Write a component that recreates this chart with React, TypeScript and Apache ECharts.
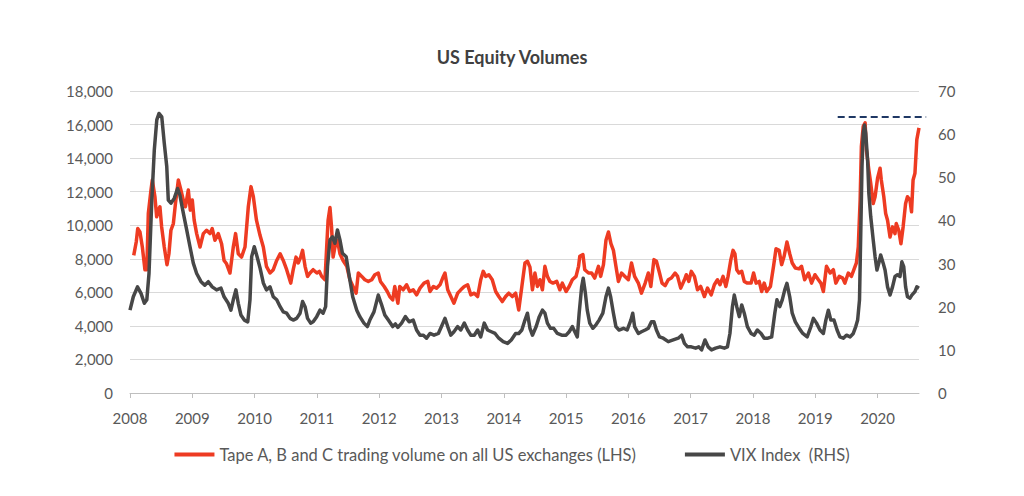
import React, { useEffect, useRef } from "react";
import * as echarts from "echarts";

const chartTitle = "US Equity Volumes";
const volumeName = "Tape A, B and C trading volume on all US exchanges (LHS)";
const vixName = "VIX Index  (RHS)";

// [decimal year, trading volume (LHS)]
const volumePoints: [number, number][] = [
  [2008.06, 8200], [2008.1, 9000], [2008.124, 9800], [2008.16, 9600], [2008.198, 8700],
  [2008.24, 7350], [2008.27, 7350], [2008.294, 10700], [2008.337, 12100], [2008.358, 12700],
  [2008.4, 11700], [2008.428, 10500], [2008.455, 10900], [2008.48, 11100], [2008.508, 9900],
  [2008.55, 8700], [2008.594, 7650], [2008.625, 8300], [2008.657, 9700], [2008.696, 10100],
  [2008.73, 11300], [2008.776, 12700], [2008.817, 12100], [2008.856, 11500], [2008.89, 11100],
  [2008.936, 12100], [2008.968, 10900], [2009.0, 11500], [2009.03, 10300], [2009.07, 9500],
  [2009.124, 8700], [2009.177, 9500], [2009.23, 9700], [2009.284, 9500], [2009.32, 9800],
  [2009.364, 9100], [2009.417, 9500], [2009.47, 8900], [2009.51, 7900], [2009.55, 7700],
  [2009.605, 7150], [2009.658, 8700], [2009.695, 9500], [2009.738, 8300], [2009.79, 8100],
  [2009.846, 8700], [2009.899, 11100], [2009.942, 12300], [2009.98, 11700], [2010.03, 10300],
  [2010.087, 9400], [2010.14, 8700], [2010.19, 7550], [2010.247, 7150], [2010.3, 7350],
  [2010.355, 7900], [2010.41, 8300], [2010.46, 7900], [2010.515, 7350], [2010.58, 6550],
  [2010.62, 7350], [2010.665, 8100], [2010.7, 7750], [2010.74, 8100], [2010.77, 8500],
  [2010.81, 7550], [2010.85, 6950], [2010.89, 7150], [2010.94, 7350], [2011.0, 7150],
  [2011.04, 7250], [2011.077, 6950], [2011.13, 6750], [2011.157, 8700], [2011.18, 10300],
  [2011.21, 11050], [2011.235, 9900], [2011.26, 8100], [2011.29, 8700], [2011.33, 9100],
  [2011.37, 8300], [2011.42, 7900], [2011.48, 7550], [2011.53, 6750], [2011.58, 6350],
  [2011.63, 5950], [2011.665, 7150], [2011.72, 6950], [2011.77, 6750], [2011.825, 6650],
  [2011.88, 6750], [2011.93, 7050], [2011.985, 7150], [2012.02, 6650], [2012.08, 6350],
  [2012.13, 6050], [2012.17, 5750], [2012.217, 5550], [2012.25, 6350], [2012.3, 5350],
  [2012.33, 6350], [2012.385, 6150], [2012.44, 6450], [2012.49, 6050], [2012.546, 6150],
  [2012.6, 5850], [2012.655, 6250], [2012.72, 6550], [2012.78, 6650], [2012.815, 6050],
  [2012.87, 6350], [2012.92, 6250], [2012.976, 6450], [2013.03, 6950], [2013.056, 7150],
  [2013.1, 6150], [2013.15, 5750], [2013.2, 5350], [2013.26, 5950], [2013.31, 6150],
  [2013.366, 6350], [2013.42, 6450], [2013.47, 5850], [2013.526, 5950], [2013.58, 5750],
  [2013.63, 6750], [2013.67, 7250], [2013.71, 6950], [2013.76, 7050], [2013.815, 6750],
  [2013.87, 6050], [2013.92, 5750], [2013.976, 5450], [2014.03, 5750], [2014.08, 5950],
  [2014.137, 5750], [2014.19, 5950], [2014.24, 4950], [2014.29, 6350], [2014.34, 7750],
  [2014.38, 7850], [2014.42, 7500], [2014.46, 6150], [2014.5, 7150], [2014.54, 6350],
  [2014.58, 6750], [2014.62, 6150], [2014.66, 7550], [2014.7, 6950], [2014.74, 6650],
  [2014.79, 6550], [2014.85, 6650], [2014.9, 6150], [2014.94, 6550], [2015.0, 6050],
  [2015.05, 6350], [2015.1, 6750], [2015.16, 6950], [2015.2, 7550], [2015.22, 8150],
  [2015.27, 8250], [2015.3, 7350], [2015.36, 7150], [2015.41, 7150], [2015.46, 6850],
  [2015.52, 7550], [2015.555, 6950], [2015.6, 7650], [2015.64, 9100], [2015.68, 9600],
  [2015.72, 8900], [2015.76, 8500], [2015.8, 7550], [2015.84, 6650], [2015.89, 7150],
  [2015.945, 6950], [2016.0, 6750], [2016.05, 7750], [2016.1, 6950], [2016.16, 6550],
  [2016.21, 5950], [2016.27, 6550], [2016.32, 7150], [2016.36, 6350], [2016.41, 7950],
  [2016.45, 7850], [2016.5, 7150], [2016.54, 6550], [2016.59, 6400], [2016.64, 6750],
  [2016.69, 6850], [2016.75, 7150], [2016.79, 6950], [2016.84, 6250], [2016.9, 6750],
  [2016.93, 7050], [2016.97, 6650], [2017.01, 7250], [2017.06, 6950], [2017.11, 6150],
  [2017.16, 6350], [2017.22, 5750], [2017.27, 6250], [2017.33, 5850], [2017.38, 6450],
  [2017.43, 6750], [2017.47, 6450], [2017.52, 6950], [2017.565, 6350], [2017.6, 6950],
  [2017.645, 7950], [2017.68, 8500], [2017.71, 8300], [2017.74, 7350], [2017.775, 7150],
  [2017.82, 7250], [2017.86, 6650], [2017.91, 6550], [2017.97, 6550], [2018.01, 7150],
  [2018.05, 6550], [2018.1, 6650], [2018.14, 6050], [2018.18, 6550], [2018.22, 6050],
  [2018.28, 6350], [2018.33, 7550], [2018.37, 8600], [2018.42, 8500], [2018.46, 7650],
  [2018.5, 8150], [2018.545, 9000], [2018.59, 8300], [2018.63, 7750], [2018.68, 7450],
  [2018.74, 7400], [2018.78, 7550], [2018.83, 6750], [2018.89, 7150], [2018.94, 6550],
  [2018.995, 7050], [2019.05, 6750], [2019.09, 6550], [2019.13, 6050], [2019.18, 7550],
  [2019.24, 7150], [2019.29, 7350], [2019.33, 6550], [2019.385, 6950], [2019.44, 6850],
  [2019.475, 6550], [2019.53, 7150], [2019.58, 6950], [2019.62, 7350], [2019.66, 7750],
  [2019.69, 8700], [2019.72, 11500], [2019.74, 14700], [2019.77, 15900], [2019.8, 16100],
  [2019.82, 14500], [2019.86, 13300], [2019.89, 12500], [2019.93, 11300], [2019.96, 11700],
  [2020.0, 12800], [2020.04, 13400], [2020.06, 12700], [2020.1, 11700], [2020.13, 10700],
  [2020.16, 10300], [2020.2, 9300], [2020.24, 9900], [2020.28, 9500], [2020.3, 10100],
  [2020.34, 9700], [2020.375, 8900], [2020.41, 9900], [2020.45, 11300], [2020.48, 11700],
  [2020.52, 11500], [2020.545, 10800], [2020.57, 12700], [2020.6, 13100], [2020.63, 15100],
  [2020.665, 15800],
];

// [decimal year, VIX index (RHS)]
const vixPoints: [number, number][] = [
  [2008.0, 19.2], [2008.053, 22.3], [2008.12, 24.6], [2008.177, 23.1], [2008.23, 20.8],
  [2008.27, 21.6], [2008.305, 27.7], [2008.35, 44.7], [2008.39, 56.3], [2008.43, 63.3],
  [2008.465, 64.8], [2008.51, 64.0], [2008.55, 57.9], [2008.59, 52.5], [2008.615, 44.7],
  [2008.657, 44.0], [2008.71, 45.1], [2008.764, 47.4], [2008.8, 45.9], [2008.856, 41.7],
  [2008.91, 37.8], [2008.963, 33.9], [2009.016, 30.1], [2009.07, 27.7], [2009.14, 25.8],
  [2009.2, 25.0], [2009.257, 25.8], [2009.32, 24.6], [2009.39, 23.9], [2009.46, 24.3],
  [2009.51, 22.3], [2009.577, 20.8], [2009.62, 19.2], [2009.658, 21.6], [2009.7, 23.9],
  [2009.738, 20.8], [2009.78, 18.1], [2009.835, 16.9], [2009.89, 16.5], [2009.926, 21.6],
  [2009.953, 31.6], [2009.995, 33.9], [2010.04, 31.6], [2010.087, 29.0], [2010.14, 25.5],
  [2010.19, 23.9], [2010.247, 24.6], [2010.3, 22.3], [2010.355, 21.6], [2010.41, 20.0],
  [2010.46, 18.8], [2010.515, 18.5], [2010.57, 17.3], [2010.62, 16.9], [2010.675, 17.3],
  [2010.73, 18.5], [2010.77, 21.2], [2010.81, 20.0], [2010.85, 17.3], [2010.9, 16.2],
  [2010.94, 16.5], [2010.997, 17.7], [2011.05, 19.2], [2011.1, 18.5], [2011.14, 20.0],
  [2011.17, 29.3], [2011.21, 35.5], [2011.25, 36.2], [2011.29, 34.7], [2011.33, 37.8],
  [2011.37, 35.5], [2011.41, 32.4], [2011.47, 31.6], [2011.52, 27.0], [2011.575, 22.3],
  [2011.64, 19.2], [2011.69, 17.7], [2011.755, 16.2], [2011.81, 15.4], [2011.85, 16.9],
  [2011.916, 18.8], [2011.985, 22.7], [2012.04, 20.4], [2012.09, 18.1], [2012.147, 16.9],
  [2012.217, 15.4], [2012.26, 16.0], [2012.3, 15.2], [2012.36, 16.2], [2012.42, 17.7],
  [2012.48, 16.5], [2012.546, 16.9], [2012.6, 14.6], [2012.655, 13.4], [2012.71, 13.4],
  [2012.76, 12.7], [2012.815, 13.8], [2012.88, 13.4], [2012.95, 13.8], [2013.0, 15.4],
  [2013.056, 17.3], [2013.1, 15.4], [2013.15, 13.4], [2013.2, 14.2], [2013.26, 15.4],
  [2013.31, 14.6], [2013.366, 16.2], [2013.42, 14.6], [2013.47, 13.4], [2013.526, 13.4],
  [2013.58, 14.6], [2013.63, 13.0], [2013.686, 16.2], [2013.74, 14.6], [2013.8, 14.2],
  [2013.86, 13.8], [2013.92, 12.7], [2013.99, 11.9], [2014.06, 11.5], [2014.12, 12.3],
  [2014.19, 13.8], [2014.24, 13.8], [2014.29, 14.6], [2014.34, 16.9], [2014.38, 18.5],
  [2014.42, 15.0], [2014.46, 13.4], [2014.52, 15.4], [2014.57, 17.7], [2014.62, 19.2],
  [2014.66, 18.5], [2014.7, 16.2], [2014.75, 15.0], [2014.8, 15.0], [2014.86, 13.8],
  [2014.93, 13.4], [2015.0, 13.4], [2015.05, 14.2], [2015.1, 15.4], [2015.14, 14.2],
  [2015.18, 13.0], [2015.21, 18.5], [2015.25, 24.6], [2015.275, 26.6], [2015.31, 23.1],
  [2015.34, 19.2], [2015.38, 16.2], [2015.43, 15.0], [2015.48, 15.8], [2015.53, 16.9],
  [2015.59, 18.5], [2015.64, 22.3], [2015.68, 24.3], [2015.715, 22.3], [2015.76, 18.5],
  [2015.8, 15.4], [2015.85, 14.6], [2015.92, 15.0], [2015.98, 14.6], [2016.04, 16.9],
  [2016.07, 18.5], [2016.1, 15.4], [2016.16, 13.8], [2016.21, 14.2], [2016.27, 14.6],
  [2016.32, 15.0], [2016.37, 16.5], [2016.41, 16.5], [2016.45, 14.6], [2016.5, 13.0],
  [2016.56, 12.7], [2016.64, 11.9], [2016.72, 12.3], [2016.8, 12.7], [2016.855, 13.4],
  [2016.9, 11.5], [2016.95, 10.7], [2017.01, 10.7], [2017.08, 10.4], [2017.13, 10.7],
  [2017.175, 10.0], [2017.23, 12.3], [2017.28, 10.7], [2017.335, 10.0], [2017.4, 10.4],
  [2017.47, 10.7], [2017.54, 10.4], [2017.59, 10.7], [2017.63, 13.8], [2017.67, 20.0],
  [2017.7, 22.7], [2017.74, 20.0], [2017.78, 17.7], [2017.82, 20.4], [2017.86, 18.5],
  [2017.91, 15.4], [2017.97, 13.8], [2018.02, 13.4], [2018.07, 14.6], [2018.13, 13.8],
  [2018.18, 12.7], [2018.24, 12.7], [2018.3, 13.0], [2018.35, 18.5], [2018.385, 21.6],
  [2018.43, 20.0], [2018.47, 21.6], [2018.51, 23.9], [2018.545, 25.4], [2018.59, 22.3],
  [2018.63, 18.5], [2018.68, 16.5], [2018.75, 14.8], [2018.8, 13.8], [2018.87, 13.0],
  [2018.93, 15.4], [2018.97, 17.3], [2019.02, 16.2], [2019.075, 14.6], [2019.13, 13.8],
  [2019.17, 16.9], [2019.21, 19.2], [2019.25, 16.9], [2019.3, 16.9], [2019.35, 14.6],
  [2019.395, 13.0], [2019.45, 12.7], [2019.5, 13.4], [2019.56, 13.0], [2019.61, 13.8],
  [2019.65, 15.4], [2019.68, 16.9], [2019.71, 21.6], [2019.73, 37.0], [2019.75, 52.5],
  [2019.77, 60.2], [2019.79, 62.1], [2019.81, 60.2], [2019.84, 54.0], [2019.86, 46.3],
  [2019.89, 40.9], [2019.93, 35.5], [2019.96, 31.6], [2019.99, 28.5], [2020.02, 30.1],
  [2020.05, 32.0], [2020.09, 30.1], [2020.12, 28.5], [2020.16, 24.6], [2020.2, 22.7],
  [2020.24, 24.6], [2020.28, 27.0], [2020.32, 27.4], [2020.36, 27.0], [2020.39, 30.4],
  [2020.42, 29.3], [2020.45, 24.6], [2020.48, 22.3], [2020.52, 22.0], [2020.55, 22.7],
  [2020.6, 23.5], [2020.63, 24.6], [2020.665, 24.3],
];

const xStart = 2008;
const xEnd = 2020.665;
const leftMax = 18000;
const leftStep = 2000;
const rightMax = 70;
const rightStep = 10;

// dashed reference level (on the RHS scale)
const refLevel = 64;
const refStart = 2019.36;
const refEnd = 2020.78;

const FONT = "Lato, 'Open Sans', sans-serif";
const LABEL = "#595959";

export default function App() {
  const ref = useRef<HTMLDivElement>(null);

  useEffect(() => {
    document.body.style.margin = "0";
    const chart = echarts.init(ref.current!, null, { renderer: "svg" });
    chart.setOption({
      animation: false,
      backgroundColor: "#ffffff",
      title: {
        text: chartTitle,
        left: "center",
        top: 43,
        textStyle: { fontFamily: FONT, fontSize: 18, fontWeight: "bold", color: "#404040" },
      },
      legend: {
        bottom: 28,
        left: "center",
        itemGap: 48,
        itemWidth: 40,
        itemHeight: 4,
        icon: "rect",
        textStyle: { fontFamily: FONT, fontSize: 16.5, color: LABEL },
        data: [volumeName, vixName],
      },
      grid: { left: 130, right: 105, top: 91, bottom: 103, containLabel: false },
      xAxis: {
        type: "value",
        min: xStart,
        max: xEnd,
        interval: 1,
        axisLine: { lineStyle: { color: "#BFBFBF", width: 1 } },
        axisTick: { show: true, length: 5, lineStyle: { color: "#BFBFBF" } },
        splitLine: { show: false },
        axisLabel: {
          showMaxLabel: false,
          margin: 17,
          fontFamily: FONT,
          fontSize: 15,
          color: LABEL,
          formatter: (v: number) => (Number.isInteger(v) ? String(v) : ""),
        },
      },
      yAxis: [
        {
          type: "value",
          min: 0,
          max: leftMax,
          interval: leftStep,
          axisLine: { show: false },
          axisTick: { show: false },
          splitLine: { lineStyle: { color: "#D9D9D9", width: 1 } },
          axisLabel: {
            margin: 17,
            fontFamily: FONT,
            fontSize: 15,
            color: LABEL,
            formatter: (v: number) => v.toLocaleString("en-US"),
          },
        },
        {
          type: "value",
          min: 0,
          max: rightMax,
          interval: rightStep,
          axisLine: { show: false },
          axisTick: { show: false },
          splitLine: { show: false },
          axisLabel: { margin: 19, fontFamily: FONT, fontSize: 15, color: LABEL },
        },
      ],
      series: [
        {
          name: volumeName,
          type: "line",
          yAxisIndex: 0,
          showSymbol: false,
          symbol: "none",
          data: volumePoints,
          color: "#EE3B22",
          lineStyle: { width: 3.5, color: "#EE3B22", join: "round" },
        },
        {
          name: vixName,
          type: "line",
          yAxisIndex: 1,
          showSymbol: false,
          symbol: "none",
          data: vixPoints,
          color: "#474747",
          lineStyle: { width: 3.5, color: "#474747", join: "round" },
        },
      ],
    });

    const p1 = chart.convertToPixel({ seriesIndex: 1 }, [refStart, refLevel]) as number[];
    const p2 = chart.convertToPixel({ seriesIndex: 1 }, [refEnd, refLevel]) as number[];
    chart.setOption({
      graphic: [
        {
          type: "line",
          silent: true,
          shape: { x1: p1[0], y1: p1[1], x2: p2[0], y2: p2[1] },
          style: { stroke: "#1F3864", lineWidth: 2, lineDash: [7, 4] },
        },
      ],
    });
    return () => chart.dispose();
  }, []);

  return (
    <div
      ref={ref}
      style={{ position: "fixed", left: 0, top: 0, width: 1024, height: 496 }}
    />
  );
}
